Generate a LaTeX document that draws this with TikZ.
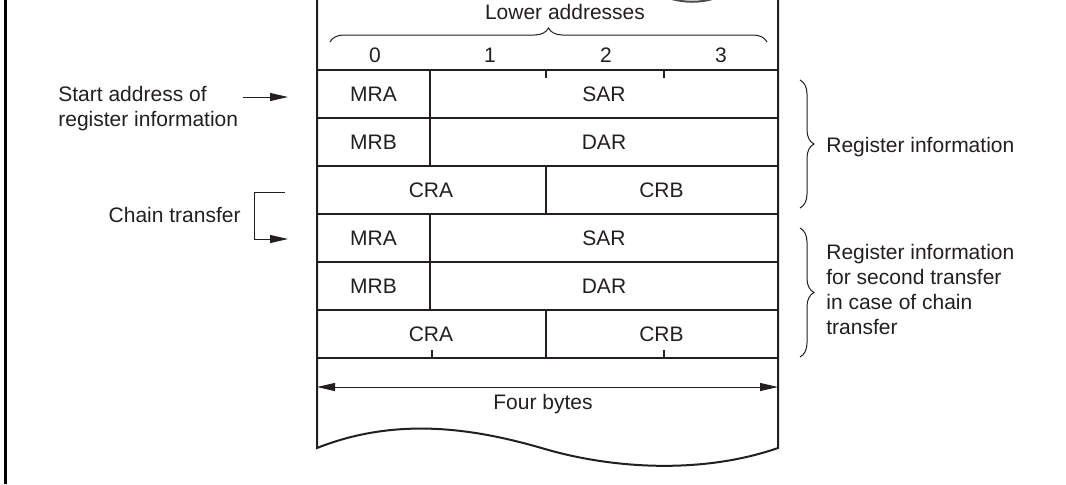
\documentclass[tikz,border=0pt]{standalone}
\usepackage{fontspec}
\setmainfont{Liberation Sans}
\usetikzlibrary{arrows.meta,decorations.pathreplacing}
\definecolor{ink}{HTML}{231F20}

\begin{document}
\begin{tikzpicture}[x=0.5pt, y=-0.5pt,
    font=\fontsize{10.5}{12.5}\selectfont,
    every node/.style={text=ink, inner sep=0pt},
    wall/.style={ink, line width=1pt},
    thin/.style={ink, line width=0.5pt},
    ptr/.style={thin, -{Triangle[length=9pt, width=4pt]}},
    curly/.style={thin, decorate, decoration={brace, amplitude=7pt}}]
    \useasboundingbox (0, 0) rectangle (1066, 484);

    % frame
    \draw[black, line width=1.5pt] (5, 0) -- (5, 484);

    % cut top of the memory
    \draw[ink!80, line width=1pt] (668, -2) .. controls (685, 3) and (700, 3) .. (716, -2);

    % memory column with torn bottom
    \draw[wall] (317, 0) -- (317, 448)
        .. controls (400, 415) and (480, 430) .. (545, 449)
        .. controls (610, 468) and (700, 475) .. (778, 448) -- (778, 0);

    % rows
    \foreach \y in {70, 118, 166, 214, 262, 310, 358}
        \draw[wall] (317, \y) -- (778, \y);
    \draw[wall] (430, 70) -- (430, 166);
    \draw[wall] (430, 214) -- (430, 310);
    \draw[wall] (545.5, 166) -- (545.5, 214);
    \draw[wall] (545.5, 310) -- (545.5, 358);

    % byte ticks
    \draw[wall] (545.5, 70) -- (545.5, 78);
    \draw[wall] (664, 70) -- (664, 78);
    \draw[wall] (432, 358) -- (432, 350);
    \draw[wall] (664, 358) -- (664, 350);

    % byte numbers
    \node (b0) at (375, 55) {0};
    \node (b1) at (490, 55) {1};
    \node (b2) at (606, 55) {2};
    \node (b3) at (721, 55) {3};
    \draw[curly] (330, 42) -- (767, 42);
    \node (lower) at (565, 12) {Lower addresses};

    % register cells
    \node (mra1) at (373.5, 94) {MRA};
    \node (sar1) at (604, 94) {SAR};
    \node (mrb1) at (373.5, 142) {MRB};
    \node (dar1) at (604, 142) {DAR};
    \node (cra1) at (431, 190) {CRA};
    \node (crb1) at (661.5, 190) {CRB};
    \node (mra2) at (373.5, 238) {MRA};
    \node (sar2) at (604, 238) {SAR};
    \node (mrb2) at (373.5, 286) {MRB};
    \node (dar2) at (604, 286) {DAR};
    \node (cra2) at (431, 334) {CRA};
    \node (crb2) at (661.5, 334) {CRB};

    % start address
    \node[anchor=west, align=left] (start) at (58, 108.5) {Start address of\\register information};
    \coordinate (sa0) at (243, 97);
    \coordinate (sa1) at (288, 97);
    \draw[ptr] (sa0) -- (sa1);

    % chain transfer
    \node[anchor=east] (chain) at (241, 215) {Chain transfer};
    \coordinate (ch0) at (285, 192);
    \coordinate (ch1) at (254, 239);
    \coordinate (ch2) at (288, 239);
    \draw[ptr] (ch0) -| (ch1) -- (ch2);

    % right braces
    \draw[curly] (800, 80) -- (800, 208);
    \node[anchor=west] (reg) at (826, 147) {Register information};
    \draw[curly] (800, 228) -- (800, 357);
    \node[anchor=west, align=left] (reg2) at (826, 289.5)
        {Register information\\for second transfer\\in case of chain\\transfer};

    % width
    \coordinate (w0) at (317, 387);
    \coordinate (w1) at (778, 387);
    \draw[thin, {Triangle[length=9pt, width=4pt]}-{Triangle[length=9pt, width=4pt]}] (w0) -- (w1);
    \node (four) at (543, 404) {Four bytes};
\end{tikzpicture}
\end{document}
